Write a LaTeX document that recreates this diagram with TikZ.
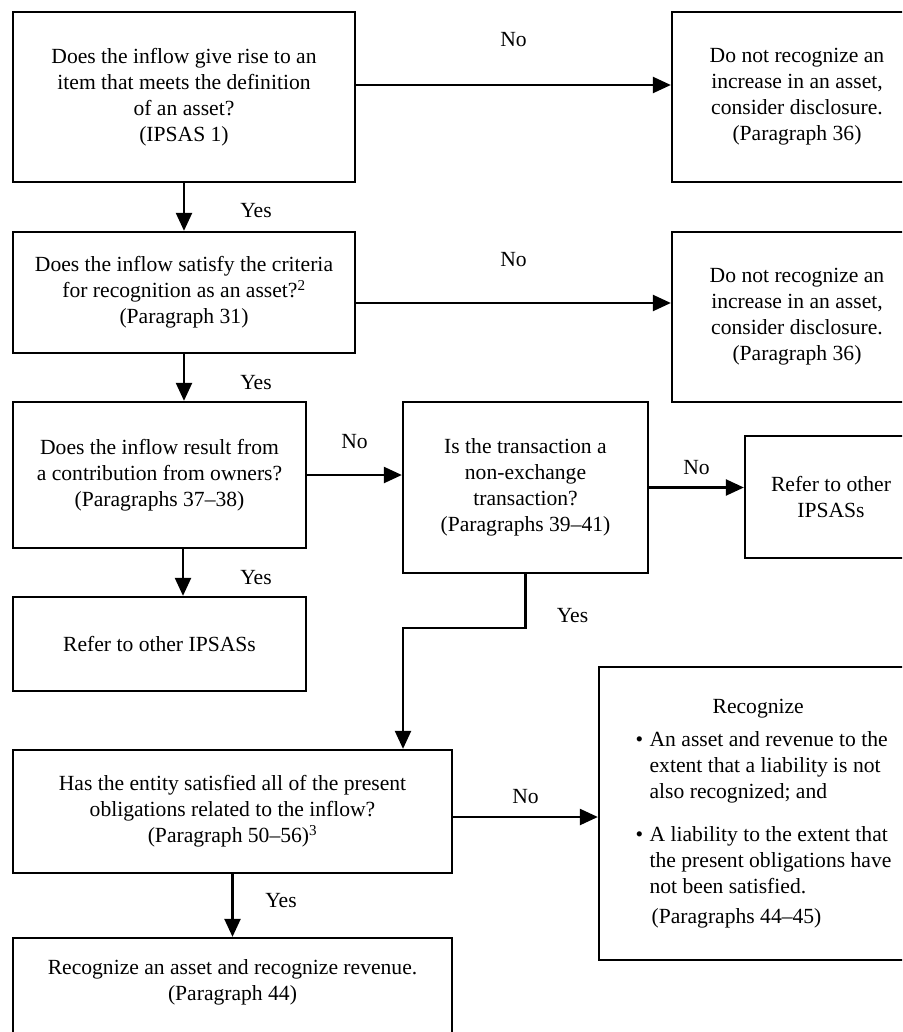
\documentclass[tikz,border=0pt]{standalone}
\usepackage{fontspec}
\setmainfont{Liberation Serif}
\usetikzlibrary{arrows.meta}

\begin{document}
\begin{tikzpicture}[x=1pt,y=-1pt,
    every node/.style={font=\fontsize{21.6pt}{26pt}\selectfont},
    box/.style={draw,line width=2.3pt,align=center,inner sep=4pt},
    arrow/.style={line width=2.3pt,-{Triangle[length=18pt,width=16pt]}},
    lbl/.style={inner sep=0pt}]
    \useasboundingbox (0,0) rectangle (902,1032);
    \clip (0,0) rectangle (902,1032);
    % questions on the left
    \node[box,minimum width=342pt,minimum height=170pt] (q1) at (184,97)
      {Does the inflow give rise to an\\ item that meets the definition\\ of an asset?\\ (IPSAS 1)};
    \node[box,minimum width=342pt,minimum height=121pt] (q2) at (184,292.5)
      {Does the inflow satisfy the criteria\\ for recognition as an asset?\textsuperscript{2}\\ (Paragraph 31)};
    \node[box,minimum width=293pt,minimum height=146pt] (q3) at (159.5,475)
      {Does the inflow result from\\ a contribution from owners?\\ (Paragraphs 37--38)};
    \node[box,minimum width=245pt,minimum height=171pt] (q4) at (525.5,487.5)
      {Is the transaction a\\ non-exchange\\ transaction?\\ (Paragraphs 39--41)};
    \node[box,minimum width=439pt,minimum height=123pt] (q5) at (232.5,811.5)
      {Has the entity satisfied all of the present\\ obligations related to the inflow?\\ (Paragraph 50--56)\textsuperscript{3}};
    % outcomes
    \node[box,minimum width=250pt,minimum height=170pt] (n1) at (797,97)
      {Do not recognize an\\ increase in an asset,\\ consider disclosure.\\ (Paragraph 36)};
    \node[box,minimum width=250pt,minimum height=170pt] (n2) at (797,317)
      {Do not recognize an\\ increase in an asset,\\ consider disclosure.\\ (Paragraph 36)};
    \node[box,minimum width=172pt,minimum height=122pt] (r1) at (831,497)
      {Refer to other\\ IPSASs};
    \node[box,minimum width=293pt,minimum height=94pt] (r2) at (159.5,644)
      {Refer to other IPSASs};
    \node[box,minimum width=329pt,minimum height=293pt,align=left] (rec) at (763.5,813.5)
      {\hspace*{77pt}Recognize\\[7pt]
       \makebox[14pt][l]{\textbullet}An asset and revenue to the\\
       \hspace*{14pt}extent that a liability is not\\
       \hspace*{14pt}also recognized; and\\[17pt]
       \makebox[14pt][l]{\textbullet}A liability to the extent that\\
       \hspace*{14pt}the present obligations have\\
       \hspace*{14pt}not been satisfied.\\[4pt]
       \hspace*{16pt}(Paragraphs 44--45)};
    \node[box,minimum width=439pt,minimum height=104pt] (bot) at (232.5,990)
      {Recognize an asset and recognize revenue.\\ (Paragraph 44)\\[-6pt]};
    % connectors
    \draw[arrow] ([yshift=12pt]q1.east) -- node[lbl,yshift=45pt] {No} ([yshift=12pt]q1.east -| n1.west);
    \draw[arrow] ([yshift=-10.5pt]q2.east) -- node[lbl,yshift=43pt] {No} ([yshift=-10.5pt]q2.east -| n2.west);
    \draw[arrow] (q3.east) -- node[lbl,yshift=33pt] {No} (q3.east -| q4.west);
    \draw[arrow] (q4.east) -- node[lbl,yshift=20pt] {No} (q4.east -| r1.west);
    \draw[arrow] ([yshift=-5.5pt]q5.east) -- node[lbl,yshift=20pt] {No} ([yshift=-5.5pt]q5.east -| rec.west);
    \draw[arrow] (q1.south) -- node[lbl,xshift=72pt,yshift=-3.5pt] {Yes} (q2.north);
    \draw[arrow] (q2.south) -- node[lbl,xshift=72pt,yshift=-5.5pt] {Yes} (q2.south |- q3.north);
    \draw[arrow] ([xshift=23.5pt]q3.south) -- node[lbl,xshift=73pt,yshift=-5.5pt] {Yes} ([xshift=23.5pt]q3.south |- r2.north);
    \coordinate (turn) at (403,628);
    \draw[arrow] (q4.south) |- node[lbl,pos=0.25,xshift=47pt,yshift=-14.5pt] {Yes} (turn) -- (turn |- q5.north);
    \draw[arrow] (q5.south) -- node[lbl,xshift=48.5pt,yshift=4.5pt] {Yes} (bot.north);
\end{tikzpicture}
\end{document}
